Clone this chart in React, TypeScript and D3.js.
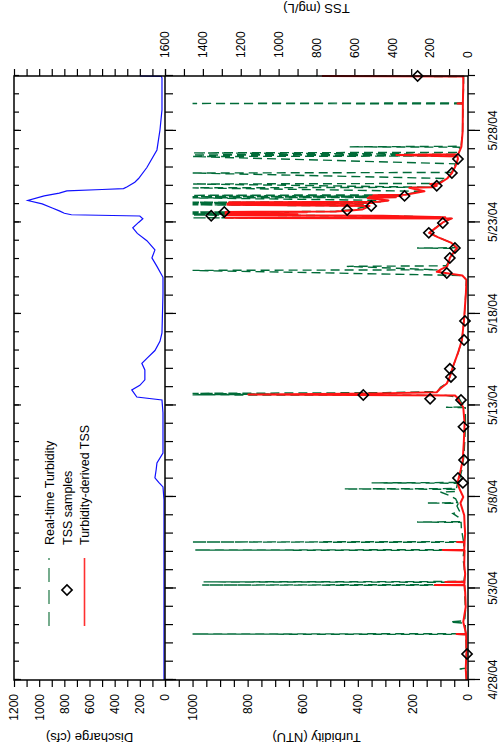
import React, { useEffect, useRef } from 'react';
import * as d3 from 'd3';

// Discharge, turbidity and TSS record, 4/28/04 - 5/31/04
// times are in days after 4/28/04 00:00

const dayTicks = [0, 5, 10, 15, 20, 25, 30];
const dayLabels = ['4/28/04', '5/3/04', '5/8/04', '5/13/04', '5/18/04', '5/23/04', '5/28/04'];
const dischargeLabels = [0, 200, 400, 600, 800, 1000, 1200];
const turbidityLabels = [0, 200, 400, 600, 800, 1000];
const tssLabels = [0, 200, 400, 600, 800, 1000, 1200, 1400, 1600];
const legendItems = ['Real-time Turbidity', 'TSS samples', 'Turbidity-derived TSS'];

// discharge (cfs)
const discharge = [
  [0, 8], [5, 8], [9.84, 8], [10.55, 16], [10.8, 50], [11.04, 80], [11.5, 70], [11.86, 64],
  [12.4, 16], [14.6, 16], [15.3, 24], [15.46, 224], [15.85, 264], [16.1, 200], [16.4, 160],
  [16.94, 160], [17.3, 184], [17.6, 140], [18.0, 80], [18.5, 40], [18.96, 24], [21.1, 16],
  [22.0, 16], [22.6, 64], [23.06, 104], [23.5, 80], [24.0, 144], [24.4, 220], [24.7, 256],
  [25.0, 210], [25.2, 176], [25.35, 200], [25.42, 744], [25.5, 800], [25.63, 840], [25.79, 896],
  [26.01, 976], [26.2, 1090], [26.45, 960], [26.6, 840], [26.72, 780], [26.8, 500], [26.85, 330],
  [26.95, 300], [27.2, 240], [27.4, 210], [28.0, 144], [28.96, 64], [30.05, 40], [31.15, 24],
  [32.9, 24], [32.98, 30], [33, 200],
];

// real-time turbidity (NTU)
const turbidity = [
  [0, 6], [0.3, 7], [0.55, 8], [0.6, 30], [0.65, 8], [1.2, 6], [1.9, 7], [2.49, 8], [2.51, 1000],
  [2.53, 9], [3.1, 10], [3.17, 65], [3.24, 12], [3.8, 9], [4.4, 11], [5.17, 13], [5.19, 965],
  [5.21, 16], [5.34, 15], [5.36, 960], [5.38, 15], [5.7, 12], [6.2, 14], [6.6, 18], [7.08, 15],
  [7.1, 990], [7.12, 16], [7.52, 15], [7.54, 1000], [7.56, 16], [7.9, 20], [8.3, 24], [8.61, 25],
  [8.63, 185], [8.65, 28], [8.9, 35], [9.1, 55], [9.2, 30], [9.5, 40], [9.65, 35], [9.67, 150],
  [9.69, 38], [9.9, 45], [10.1, 70], [10.27, 100], [10.3, 45], [10.42, 40], [10.44, 450],
  [10.46, 42], [10.75, 38], [10.77, 350], [10.79, 35], [11.0, 30], [11.5, 22], [12.2, 15],
  [13.0, 12], [14.0, 9], [14.88, 10], [14.9, 80], [14.92, 12], [15.2, 25], [15.45, 35],
  [15.55, 80], [15.58, 1000], [15.62, 700], [15.66, 1000], [15.7, 300], [15.76, 110], [16.0, 100],
  [16.2, 78], [16.56, 66], [17.1, 55], [17.87, 36], [18.58, 22], [19.67, 14], [21.15, 8],
  [21.86, 6], [22.1, 20], [22.38, 1000], [22.41, 110], [22.6, 440], [22.63, 80], [22.9, 68],
  [23.06, 66], [23.3, 55], [23.58, 42], [23.6, 185], [23.62, 42], [23.9, 62], [24.2, 110],
  [24.43, 140], [24.7, 118], [25.0, 92], [25.22, 60], [25.25, 1000], [25.28, 90], [25.36, 300],
  [25.4, 1000], [25.43, 700], [25.46, 1000], [25.49, 800], [25.52, 1000], [25.55, 650],
  [25.57, 1000], [25.6, 480], [25.7, 420], [25.8, 390], [25.9, 360], [25.96, 1000], [25.99, 370],
  [26.03, 1000], [26.06, 340], [26.1, 1000], [26.13, 320], [26.2, 290], [26.34, 1000],
  [26.37, 260], [26.41, 1000], [26.44, 250], [26.48, 1000], [26.51, 235], [26.7, 170],
  [26.89, 1000], [26.92, 130], [27.1, 1000], [27.13, 110], [27.4, 80], [27.7, 1000], [27.73, 60],
  [28.2, 45], [28.6, 1000], [28.63, 38], [28.69, 1000], [28.72, 36], [28.8, 1000], [28.83, 35],
  [29.11, 30], [29.13, 430], [29.16, 25], [30, 20], [31.48, 18], [31.5, 1000], [31.53, 18],
  [32.5, 16], [32.97, 16], [33, 550],
];

// turbidity-derived TSS (mg/L)
const tssDerived = [
  [0, 8], [0.6, 12], [1.5, 8], [2.49, 10], [2.51, 60], [2.53, 10], [3.17, 25], [4.0, 12],
  [4.8, 15], [5.17, 18], [5.19, 175], [5.21, 20], [5.34, 18], [5.36, 120], [5.38, 18], [5.8, 15],
  [6.3, 20], [7.08, 18], [7.1, 133], [7.12, 20], [7.52, 18], [7.54, 58], [7.56, 18], [8.0, 15],
  [8.5, 18], [9.0, 20], [9.67, 40], [10.0, 25], [10.44, 45], [10.77, 55], [11.0, 50], [11.5, 38],
  [12.0, 28], [13.0, 22], [14.0, 18], [14.9, 25], [15.2, 45], [15.45, 58], [15.55, 70],
  [15.6, 1160], [15.66, 470], [15.72, 165], [15.9, 149], [16.2, 112], [16.56, 96], [17.1, 80],
  [17.87, 53], [18.58, 32], [19.67, 21], [21.15, 11], [21.86, 8], [22.1, 30], [22.3, 165],
  [22.45, 140], [22.6, 110], [22.9, 100], [23.06, 96], [23.3, 80], [23.6, 58], [23.9, 90],
  [24.2, 160], [24.43, 205], [24.7, 170], [25.0, 133], [25.22, 85], [25.25, 1280], [25.28, 120],
  [25.36, 450], [25.4, 1280], [25.43, 900], [25.46, 1280], [25.49, 1000], [25.52, 1280],
  [25.55, 850], [25.57, 1280], [25.6, 700], [25.65, 620], [25.7, 560], [25.8, 540], [25.9, 520],
  [25.96, 1270], [25.99, 560], [26.03, 1270], [26.06, 500], [26.1, 1260], [26.13, 470],
  [26.2, 420], [26.34, 530], [26.37, 380], [26.41, 520], [26.44, 350], [26.48, 500], [26.51, 330],
  [26.7, 230], [26.89, 310], [26.92, 190], [27.0, 165], [27.1, 200], [27.13, 150], [27.4, 110],
  [27.7, 85], [28.1, 65], [28.47, 53], [28.6, 55], [28.69, 378], [28.72, 52], [29.13, 35],
  [30, 28], [31.48, 27], [31.5, 55], [31.53, 27], [32.5, 25], [32.97, 25], [33, 771],
];

// TSS samples (mg/L)
const tssSamples = [
  [1.42, 5], [10.77, 27], [11.04, 53], [12.02, 21], [13.83, 24], [15.3, 37], [15.36, 200],
  [15.57, 553], [16.56, 90], [17.0, 96], [18.58, 21], [19.62, 16], [22.24, 112], [23.06, 96],
  [23.6, 69], [24.43, 207], [24.97, 133], [25.36, 1356], [25.57, 1287], [25.68, 638], [25.9, 511],
  [26.45, 335], [27.0, 165], [27.7, 85], [28.47, 53], [33.0, 266],
];

const App = () => {
  const svgRef = useRef<SVGSVGElement>(null);

  useEffect(() => {
    const W = 755;
    const font = 'Arial, "Liberation Sans", sans-serif';
    const svg = d3.select(svgRef.current);
    svg.selectAll('*').remove();

    // the chart is laid out landscape, then turned a quarter turn to the left
    const g = svg.append('g').attr('transform', `translate(0,${W}) rotate(-90)`);

    const left = 75, right = 679, top = 14, mid = 165, bottom = 468;
    const x = d3.scaleLinear().domain([0, 33]).range([left, right]);
    const yQ = d3.scaleLinear().domain([0, 1200]).range([mid, top]);
    const yT = d3.scaleLinear().domain([0, 1100]).range([bottom, mid]);
    const yS = d3.scaleLinear().domain([0, 1600]).range([bottom, mid]);

    const axis = (a: any, tx: number, ty: number) => {
      const s = g.append('g').attr('transform', `translate(${tx},${ty})`).call(a);
      s.select('.domain').remove();
      s.selectAll('line').attr('stroke', '#000').attr('stroke-width', 1.2);
      s.selectAll('text').attr('font-family', font).attr('font-size', 12).attr('fill', '#000');
      return s;
    };
    const none = () => '';
    const days = d3.range(0, 34);

    // date ticks: outside bottom, inside the middle and top edges
    axis(d3.axisBottom(x).tickValues(days).tickSize(7).tickFormat(none), 0, bottom);
    axis(d3.axisBottom(x).tickValues(dayTicks).tickSize(12).tickPadding(8.5)
      .tickFormat((d, i) => dayLabels[i]), 0, bottom);
    axis(d3.axisBottom(x).tickValues(days).tickSize(8).tickFormat(none), 0, mid);
    axis(d3.axisBottom(x).tickValues(dayTicks).tickSize(11).tickFormat(none), 0, mid);
    axis(d3.axisBottom(x).tickValues(days).tickSize(5).tickFormat(none), 0, top);
    axis(d3.axisBottom(x).tickValues(dayTicks).tickSize(7).tickFormat(none), 0, top);

    // discharge
    axis(d3.axisLeft(yQ).tickValues(d3.range(0, 1201, 100)).tickSize(7).tickPadding(7)
      .tickFormat(d => (dischargeLabels.includes(+d) ? String(d) : '')), left, 0);
    axis(d3.axisRight(yQ).tickValues(d3.range(0, 1201, 100)).tickSize(7).tickFormat(none), right, 0);
    // turbidity
    axis(d3.axisLeft(yT).tickValues(d3.range(0, 1101, 50)).tickSize(7).tickPadding(7)
      .tickFormat(d => (turbidityLabels.includes(+d) ? String(d) : '')), left, 0);
    // TSS
    axis(d3.axisRight(yS).tickValues(d3.range(0, 1601, 100)).tickSize(7).tickPadding(11)
      .tickFormat(d => (tssLabels.includes(+d) ? String(d) : '')), right, 0);

    const line = (ys: any) => d3.line<number[]>().x(d => x(d[0])).y(d => ys(d[1]));

    g.append('path').datum(turbidity).attr('d', line(yT)).attr('fill', 'none')
      .attr('stroke', '#006b38').attr('stroke-width', 1.4).attr('stroke-dasharray', '9,5');
    g.append('path').datum(tssDerived).attr('d', line(yS)).attr('fill', 'none')
      .attr('stroke', '#ff1414').attr('stroke-width', 2).attr('stroke-linejoin', 'round');
    g.append('path').datum(discharge).attr('d', line(yQ)).attr('fill', 'none')
      .attr('stroke', '#1010ff').attr('stroke-width', 1.2);

    const diamond = d3.symbol().type(d3.symbolSquare).size(52);
    g.selectAll('.sample').data(tssSamples).enter().append('path')
      .attr('d', diamond)
      .attr('transform', d => `translate(${x(d[0])},${yS(d[1])}) rotate(45)`)
      .attr('fill', 'none').attr('stroke', '#000').attr('stroke-width', 1.6);

    // frame
    g.append('rect').attr('x', left).attr('y', top).attr('width', right - left)
      .attr('height', bottom - top).attr('fill', 'none').attr('stroke', '#000').attr('stroke-width', 1.5);
    g.append('line').attr('x1', left).attr('x2', right).attr('y1', mid).attr('y2', mid)
      .attr('stroke', '#000').attr('stroke-width', 1.5);

    // axis titles
    const title = (t: string, tx: number, ty: number) =>
      g.append('text').attr('transform', `translate(${tx},${ty}) rotate(-90)`)
        .attr('text-anchor', 'middle').attr('font-family', font).attr('font-size', 13).text(t);
    title('Discharge (cfs)', 22, (top + mid) / 2);
    title('Turbidity (NTU)', 22, (mid + bottom) / 2);
    title('TSS (mg/L)', 751, (mid + bottom) / 2);

    // legend
    const rows = [49, 67, 84.5];
    g.append('line').attr('x1', 129).attr('x2', 197).attr('y1', rows[0]).attr('y2', rows[0])
      .attr('stroke', '#3d8a5e').attr('stroke-width', 1.4).attr('stroke-dasharray', '14,8');
    g.append('path').attr('d', diamond).attr('transform', `translate(165,${rows[1]}) rotate(45)`)
      .attr('fill', 'none').attr('stroke', '#000').attr('stroke-width', 1.6);
    g.append('line').attr('x1', 129).attr('x2', 197).attr('y1', rows[2]).attr('y2', rows[2])
      .attr('stroke', '#ff3030').attr('stroke-width', 1.6);
    g.selectAll('.legend').data(legendItems).enter().append('text')
      .attr('x', 210).attr('y', (d, i) => rows[i] + 4.5)
      .attr('font-family', font).attr('font-size', 12.5).text(d => d);
  }, []);

  return (
    <svg
      ref={svgRef}
      width="500"
      height="755"
      style={{ position: 'absolute', left: 0, top: 0, background: '#fff' }}
    />
  );
};

export default App;
